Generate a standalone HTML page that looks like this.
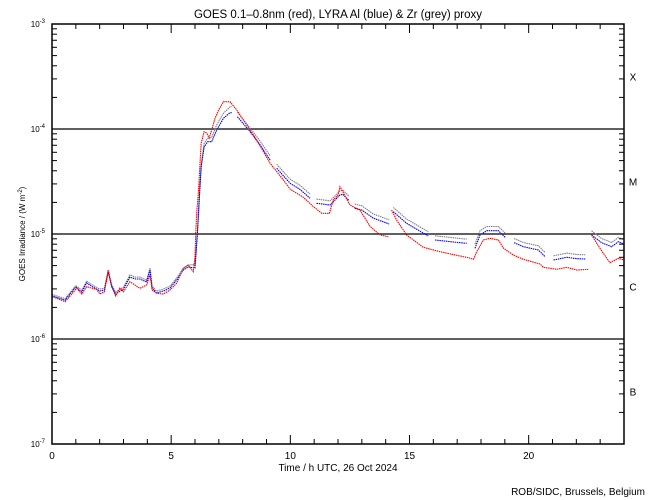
<!DOCTYPE html>
<html><head><meta charset="utf-8"><style>
html,body{margin:0;padding:0;background:#fff;}
svg{display:block;font-family:"Liberation Sans",sans-serif;}
</style></head><body>
<svg id="chart" width="650" height="500" viewBox="0 0 650 500"></svg>
<script>
// data (time in hours UTC, log10 irradiance in W/m^2; null = gap)
const redTimes=[0.03,0.55,1.04,1.25,1.45,1.87,2.0,2.2,2.36,2.5,2.67,2.85,3.0,3.27,3.48,3.69,3.97,4.11,4.2,4.39,4.67,4.95,5.23,5.51,5.72,5.93,6.0,6.03,6.08,6.15,6.2,6.26,6.38,6.49,6.59,6.7,6.84,6.99,7.19,7.47,7.75,8.17,8.59,9.15,9.71,10.0,10.55,10.97,11.32,11.64,11.8,12.0,12.08,12.2,12.5,12.92,13.35,13.77,14.11,14.18,14.25,14.46,14.88,15.58,16.28,17.12,17.4,17.68,17.82,18.1,18.38,18.73,18.95,19.36,19.78,20.48,20.62,21.18,21.6,22.02,22.5,22.57,22.64,22.99,23.41,23.76,24.0];
const redLogFlux=[-5.597,-5.645,-5.517,-5.571,-5.502,-5.527,-5.571,-5.550,-5.343,-5.502,-5.590,-5.514,-5.550,-5.454,-5.486,-5.517,-5.486,-5.390,-5.533,-5.565,-5.571,-5.533,-5.470,-5.327,-5.295,-5.359,-5.216,-4.990,-4.771,-4.581,-4.359,-4.133,-4.026,-4.038,-4.086,-4.010,-3.898,-3.819,-3.740,-3.740,-3.819,-3.962,-4.105,-4.327,-4.486,-4.574,-4.650,-4.740,-4.803,-4.803,-4.676,-4.629,-4.550,-4.597,-4.724,-4.771,-4.930,-5.010,-5.026,null,-4.771,-4.867,-5.010,-5.127,-5.169,-5.210,-5.222,-5.241,-5.169,-5.057,-5.041,-5.057,-5.136,-5.200,-5.241,-5.286,-5.317,-5.336,-5.317,-5.343,-5.336,null,-5.010,-5.136,-5.273,-5.231,-5.248];
const lyraTimes=[0.0,0.55,1.0,1.25,1.45,2.0,2.2,2.36,2.5,2.67,3.0,3.27,3.5,3.69,3.97,4.11,4.2,4.39,4.67,4.95,5.23,5.51,5.72,6.0,6.1,6.2,6.26,6.38,6.53,6.7,6.91,7.19,7.47,7.54,7.66,7.78,8.31,8.73,9.15,9.3,9.43,9.99,10.4,10.83,10.95,11.1,11.67,12.08,12.2,12.47,12.6,12.7,13.0,13.48,14.15,14.23,14.32,14.88,15.79,15.93,16.07,17.12,17.4,17.58,17.75,17.96,18.24,18.73,19.01,19.2,19.39,19.78,20.41,20.69,20.86,21.04,21.6,22.02,22.37,22.5,22.64,23.06,23.48,23.76,24.0];
const blueLogFlux=[-5.590,-5.630,-5.505,-5.552,-5.467,-5.543,-5.533,-5.362,-5.495,-5.571,-5.524,-5.410,-5.429,-5.429,-5.457,-5.343,-5.514,-5.562,-5.543,-5.514,-5.438,-5.343,-5.314,-5.324,-5.0,-4.581,-4.362,-4.171,-4.121,-4.121,-4.010,-3.898,-3.845,-3.845,null,-3.883,-4.026,-4.152,-4.295,null,-4.374,-4.517,-4.574,-4.660,null,-4.708,-4.724,-4.629,-4.622,-4.683,null,-4.755,-4.771,-4.850,-4.905,null,-4.788,-4.898,-5.019,null,-5.057,-5.083,-5.089,null,-5.136,-5.010,-4.969,-4.969,-5.031,null,-5.083,-5.121,-5.152,-5.216,null,-5.248,-5.222,-5.235,-5.238,null,-5.010,-5.083,-5.121,-5.073,-5.095];
const greyLogFlux=[-5.575,-5.615,-5.49,-5.535,-5.45,-5.525,-5.515,-5.345,-5.48,-5.555,-5.505,-5.39,-5.41,-5.41,-5.44,-5.325,-5.495,-5.545,-5.525,-5.495,-5.42,-5.325,-5.295,-5.29,-4.98,-4.56,-4.34,-4.14,-4.09,-4.08,-3.96,-3.85,-3.79,-3.785,null,-3.84,-3.99,-4.115,-4.255,null,-4.335,-4.478,-4.535,-4.62,null,-4.668,-4.684,-4.59,-4.582,-4.643,null,-4.715,-4.731,-4.81,-4.865,null,-4.748,-4.858,-4.979,null,-5.017,-5.043,-5.049,null,-5.096,-4.97,-4.929,-4.929,-4.991,null,-5.043,-5.081,-5.112,-5.176,null,-5.208,-5.182,-5.195,-5.198,null,-4.97,-5.043,-5.081,-5.033,-5.055];
const xTickLabels=["0","5","10","15","20"];
const yDecades=[-3,-4,-5,-6,-7];
const classLabels=["X","M","C","B"];

const NS="http://www.w3.org/2000/svg";
const svg=document.getElementById('chart');
const L=52,R=624,T=24,B=444,XMAX=24,YMAX=-3,YMIN=-7;
function xs(t){return L+(t/XMAX)*(R-L);}
function ys(e){return T+(YMAX-e)/(YMAX-YMIN)*(B-T);}
function mk(tag,attrs,parent){const el=document.createElementNS(NS,tag);for(const k in attrs)el.setAttribute(k,attrs[k]);(parent||svg).appendChild(el);return el;}

// title
const title=mk('text',{x:338,y:18,'text-anchor':'middle','font-size':11.5});
title.textContent="GOES 0.1\u20130.8nm (red), LYRA Al (blue) & Zr (grey) proxy";



// flare-class lines
const gl=mk('g',{});


[-4,-5,-6].forEach(e=>{mk('line',{x1:L,x2:R,y1:ys(e),y2:ys(e),stroke:'#000','stroke-width':1.2},gl);});

// series
function series(times,vals,color,name){
  let d='',pen=false;
  for(let i=0;i<times.length;i++){
    const v=vals[i];
    if(v===null||v===undefined){pen=false;continue;}
    d+=(pen?'L':'M')+xs(times[i]).toFixed(1)+' '+ys(v).toFixed(1)+' ';pen=true;
  }
  const p=mk('path',{d:d,fill:'none',stroke:color,'stroke-width':1.1,'stroke-dasharray':'1.5 0.7'});
  
  
}
series(lyraTimes,greyLogFlux,'#808080','zr-grey-series');
series(lyraTimes,blueLogFlux,'#0000ff','al-blue-series');
series(redTimes,redLogFlux,'#ff0000','goes-red-series');

// axes frame
const frame=mk('rect',{x:L,y:T,width:R-L,height:B-T,fill:'none',stroke:'#000','stroke-width':1.5});



// x ticks
const xt=mk('g',{stroke:'#000','stroke-width':1});


for(let h=1;h<XMAX;h++){
  const len=(h%5===0)?9:5;const x=xs(h);
  mk('line',{x1:x,x2:x,y1:B,y2:B-len},xt);
  mk('line',{x1:x,x2:x,y1:T,y2:T+len},xt);
}
xTickLabels.forEach(s=>{
  const t=mk('text',{x:xs(+s),y:459,'text-anchor':'middle','font-size':10});
  t.textContent=s;
  
  
});
const xtitle=mk('text',{x:338,y:471,'text-anchor':'middle','font-size':10});
xtitle.textContent="Time / h UTC, 26 Oct 2024";



// y ticks
const yt=mk('g',{stroke:'#000','stroke-width':1});


for(let d=-7;d<-3;d++){
  for(let m=2;m<=9;m++){
    const y=ys(d+Math.log10(m));
    mk('line',{x1:L,x2:L+5,y1:y,y2:y},yt);
    mk('line',{x1:R,x2:R-5,y1:y,y2:y},yt);
  }
}
yDecades.forEach(e=>{
  const y=ys(e);
  mk('line',{x1:L,x2:L+10,y1:y,y2:y},yt);
  mk('line',{x1:R,x2:R-10,y1:y,y2:y},yt);
  const t=mk('text',{x:45,y:y+3,'text-anchor':'end','font-size':8});
  t.innerHTML='10<tspan dy="-4" font-size="6">'+e+'</tspan>';
  
  
});
classLabels.forEach((c,i)=>{
  const t=mk('text',{x:633,y:ys(-3.5-i)+4,'text-anchor':'middle','font-size':10});
  t.textContent=c;
  
  
});
const ytitle=mk('text',{x:0,y:0,'text-anchor':'middle','font-size':8,transform:'translate(25,234) rotate(-90)'});
ytitle.innerHTML='GOES Irradiance / (W m<tspan dy="-3" font-size="6">-2</tspan><tspan dy="3">)</tspan>';



const credit=mk('text',{x:645,y:495,'text-anchor':'end','font-size':10});
credit.textContent="ROB/SIDC, Brussels, Belgium";


</script>
</body></html>
